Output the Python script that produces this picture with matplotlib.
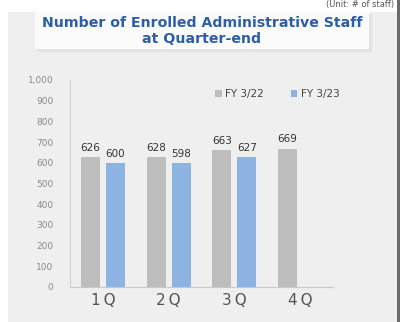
import numpy as np
import matplotlib.pyplot as plt
from matplotlib.patches import Rectangle

quarters = ["1Q", "2Q", "3Q", "4Q"]
fy22 = [626, 628, 663, 669]
fy23 = [600, 598, 627]
series_names = ["FY 3/22", "FY 3/23"]

W, H = 402, 322
fig = plt.figure(figsize=(W / 100, H / 100), dpi=100)
fig.patch.set_facecolor("white")

def box(x0, y0, x1, y1, color):
    # rectangle given in pixels from the top-left corner
    fig.patches.append(Rectangle((x0 / W, 1 - y1 / H), (x1 - x0) / W, (y1 - y0) / H,
                                 transform=fig.transFigure, facecolor=color,
                                 edgecolor="none", zorder=-2))

# grey panel, right border, title band with a soft shadow
box(8, 12, 397, 322, "#efefef")
box(397, 0, 400, 322, "#6a6a6a")
box(37, 14, 372, 52, "#e2e2e2")
box(35, 12, 369, 49, "#fbfbfb")

fig.text(202 / W, 1 - 31 / H, "Number of Enrolled Administrative Staff\nat Quarter-end",
         ha="center", va="center", fontsize=10.2, fontweight="bold",
         color="#2f5ea8", linespacing=1.2)
fig.text(394 / W, 1 - 5 / H, "(Unit: # of staff)", ha="right", va="center",
         fontsize=6, color="#555555")

ax = fig.add_axes((70 / W, 1 - 287 / H, (333 - 70) / W, (287 - 80) / H))
ax.set_facecolor("none")

x = np.arange(len(quarters))
w = 0.29
off = 0.19
b1 = ax.bar(x - off, fy22, w, color="#bdbdbd", label=series_names[0], zorder=2)
b2 = ax.bar(x[:len(fy23)] + off, fy23, w, color="#8db3e2", label=series_names[1], zorder=2)

for bars, vals in ((b1, fy22), (b2, fy23)):
    for r, v in zip(bars, vals):
        ax.annotate(f"{v}", (r.get_x() + r.get_width() / 2, v), xytext=(0, 3),
                    textcoords="offset points", ha="center", va="bottom",
                    fontsize=7.5, color="#333333")

ax.set_xlim(-0.5, len(quarters) - 0.5)
ax.set_ylim(0, 1000)
ax.set_yticks(range(0, 1001, 100))
ax.set_yticklabels([f"{v:,}" for v in range(0, 1001, 100)])
ax.set_xticks(x)
ax.set_xticklabels([q[0] + "\u2009" + q[1:] for q in quarters])
ax.tick_params(axis="y", length=0, labelsize=6.5, labelcolor="#8a8a8a", pad=12)
ax.tick_params(axis="x", length=0, labelsize=11, labelcolor="#555555", pad=4)
for s in ("top", "right"):
    ax.spines[s].set_visible(False)
ax.spines["left"].set_color("#d0d0d0")
ax.spines["bottom"].set_color("#c8c8c8")

fig.legend(handles=[b1, b2], loc="upper left", bbox_to_anchor=(206 / W, 1 - 80 / H),
           ncol=2, frameon=False, fontsize=7.5, handlelength=0.6, handleheight=0.6,
           handletextpad=0.35, columnspacing=2.6, labelcolor="#444444")

fig.savefig("out.png", dpi=100, facecolor=fig.get_facecolor())
